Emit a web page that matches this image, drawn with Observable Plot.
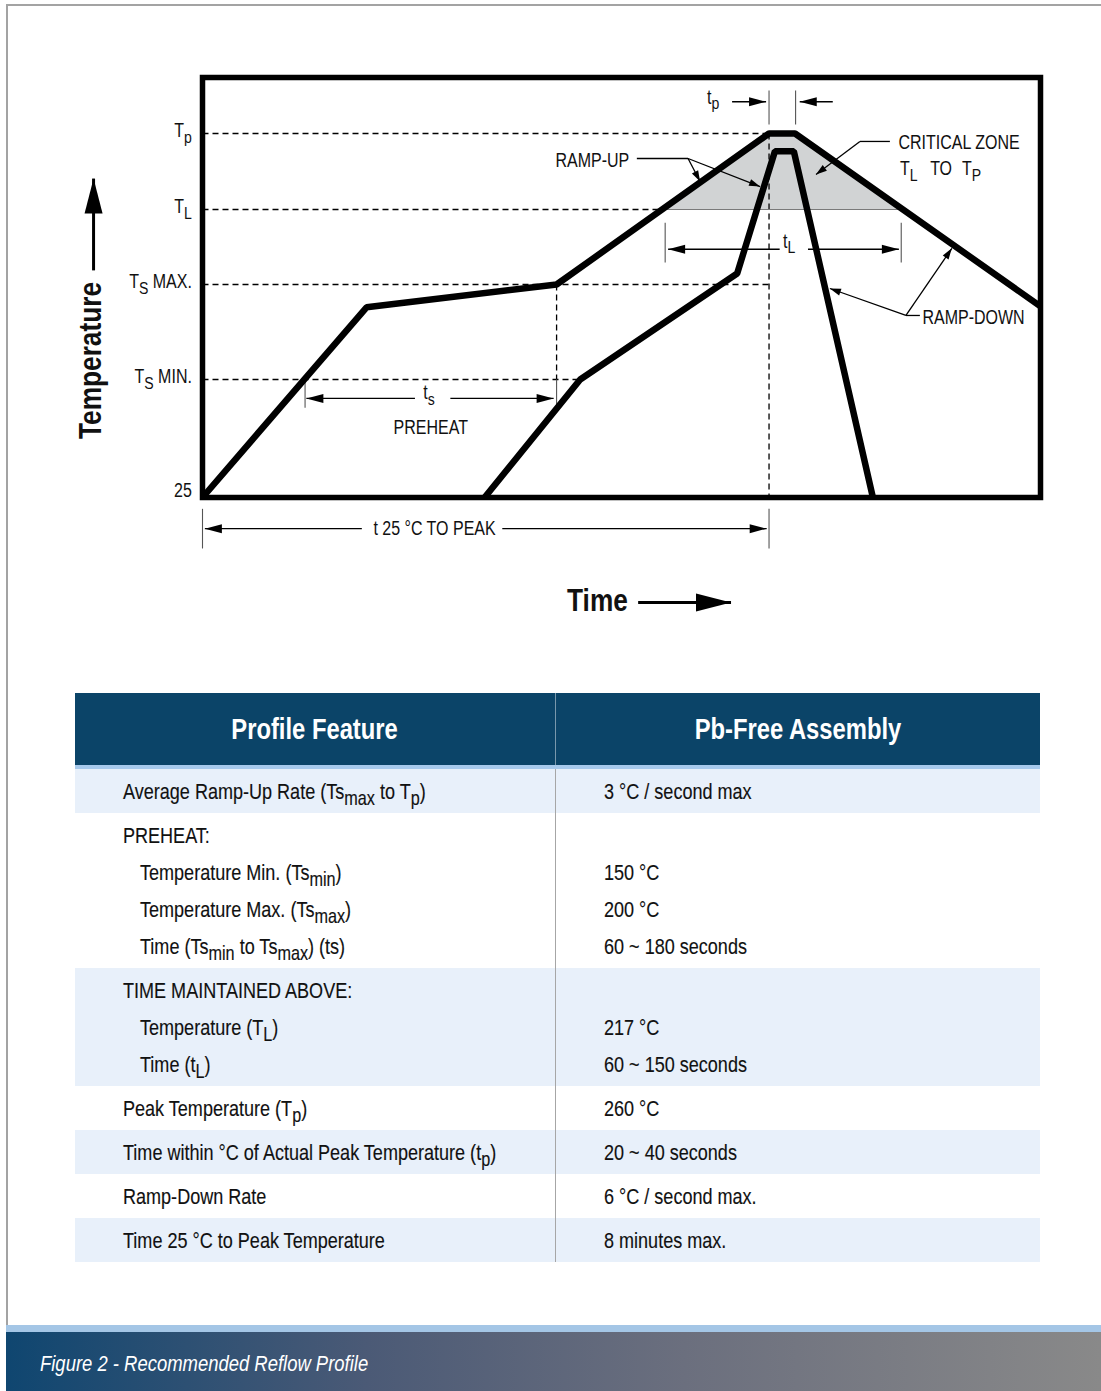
<!DOCTYPE html>
<html>
<head>
<meta charset="utf-8">
<script src="https://cdn.jsdelivr.net/npm/d3@7"></script>
<script src="https://cdn.jsdelivr.net/npm/@observablehq/plot@0.6"></script>
<style>
  body { margin: 0; background: #fff; }
  #page { position: relative; width: 1101px; height: 1391px; overflow: hidden;
    font-family: "Liberation Sans", Arial, sans-serif; color: #111; }
  #frameTop { position: absolute; left: 6px; top: 4px; width: 1095px; height: 2px; background: #a3a3a3; }
  #frameLeft { position: absolute; left: 6px; top: 4px; width: 2px; height: 1321px; background: #a3a3a3; }
  #chart { position: absolute; left: 0; top: 0; }
  #table { position: absolute; left: 75px; top: 693px; width: 965px; }
  .hdr { display: flex; height: 72px; background: #0b4468; color: #fff; font-weight: bold; font-size: 29px; }
  .hdr div { display: flex; align-items: center; justify-content: center; }
  .hdr .c1 { width: 481px; border-right: 1px solid rgba(255,255,255,0.45); box-sizing: border-box; }
  .hdr .c2 { flex: 1; }
  .hdr .n { transform-origin: 50% 50%; }
  .stripe { height: 4px; background: #a6c9ec; }
  .grp { display: flex; }
  .grp.blue { background: #e8f0fa; }
  .grp .c1 { width: 481px; border-right: 1px solid #a6a6a6; box-sizing: border-box; padding: 3.5px 0 3.5px 48px; }
  .grp .c2 { flex: 1; padding: 3.5px 0 3.5px 48px; }
  .ln { height: 37px; line-height: 37px; font-size: 22px; white-space: nowrap; -webkit-text-stroke: 0.15px #111; }
  .ln.ind { padding-left: 17px; }
  .n { display: inline-block; transform: scaleX(0.82); transform-origin: 0 50%; white-space: nowrap; }
  sub { font-size: 90%; vertical-align: -0.3em; line-height: 0; }
  #footStripe { position: absolute; left: 6px; top: 1325px; width: 1095px; height: 7px; background: #a4c6e6; }
  #footer { position: absolute; left: 6px; top: 1332px; width: 1095px; height: 59px;
    background: linear-gradient(to right, #0f4670 0%, #4b5a76 33%, #6b6f7e 62%, #898989 100%); }
  #caption { position: absolute; left: 34px; top: 0; line-height: 64px; font-size: 22.5px; font-style: italic; color: #fff; }
</style>
</head>
<body>
<div id="page">
  <div id="frameTop"></div>
  <div id="frameLeft"></div>
  <div id="chart"></div>
  <div id="table"></div>
  <div id="footStripe"></div>
  <div id="footer"><span id="caption"><span class="n">Figure 2 - Recommended Reflow Profile</span></span></div>
</div>
<script>
// ---------------- data (time in s, temperature in °C; schematic) ----------------
const levelTemps = [25, 150, 200, 217, 260];
const levelLabels = ["25", "T_{S} MIN.", "T_{S} MAX.", "T_{L}", "T_{p}"];

const outerTimes = [0, 139, 300, 480, 502, 710];
const outerTemps = [25, 188, 200, 260, 260, 188.5];
const innerTimes = [239, 320, 453, 485, 501, 568];
const innerTemps = [25, 150, 202.5, 250, 250, 25];
const zoneTimes = [391, 480, 502, 593];
const zoneTemps = [217, 260, 260, 217];

// [t1, T1, t2, T2]
const guideLines = [[0, 260, 480, 260], [0, 217, 391, 217], [0, 200, 480, 200], [0, 150, 320, 150],
  [480, 260, 480, 25], [300, 200, 300, 150]];
const zoneBase = [[391, 217, 593, 217]];
// [t, T1, T2]
const dimTicks = [[0, 13, -29], [480, 13, -29], [86.9, 150, 120], [300, 150, 120],
  [392, 214, 205], [592, 214, 205], [480, 284.3, 265.1], [502.5, 284.3, 265.1]];
// [tail t, tail T, tip t, tip T]
const dimArrows = [[135, -8, 2, -8], [254, -8, 478, -8], [180, 130, 88, 130], [210, 130, 297.5, 130],
  [489, 208, 394.5, 208], [513, 208, 590, 208], [448.7, 278, 477.5, 278], [534, 278, 506, 278]];
const leaderLines = [[368, 245.85, 411.4, 245.85], [582.4, 255.5, 557, 255.5], [607.8, 183.7, 596, 183.7]];
const leaderArrows = [[411.4, 245.85, 421.6, 232.8], [411.4, 245.85, 472.4, 230], [557, 255.5, 519.8, 236.8],
  [596, 183.7, 531.6, 197.9], [596, 183.7, 634.9, 208.2]];
const axisArrows = [[-92.3, 203.2, -92.3, 234.5], [369.1, -86.2, 447.8, -86.2]];

const startLabels = ["t_{p}", "t_{L}", "t_{s}", "t 25 °C TO PEAK", "CRITICAL ZONE", "T_{L}", "TO", "T_{P}", "RAMP-DOWN"];
const startTimes = [427.5, 491.9, 187.1, 144.8, 589.7, 591, 616.5, 643.5, 610];
const startTemps = [280.5, 209.8, 136.2, -7.8, 254.6, 239.8, 239.8, 239.8, 182.6];
const endLabels = ["RAMP-UP"];
const endTimes = [361.5];
const endTemps = [244.7];
const midLabels = ["PREHEAT"];
const midTimes = [193.4];
const midTemps = [99.2];
const axisTitles = ["Time", "Temperature"];
const axisTitleTimes = [334.6, -95];
const axisTitleTemps = [-84, 160];
const axisTitleRotate = [0, -90];

// table
const tableHeader = ["Profile Feature", "Pb-Free Assembly"];
const tableFeatures = ["Average Ramp-Up Rate (Ts_{max} to T_{p})", "PREHEAT:", "Temperature Min. (Ts_{min})",
  "Temperature Max. (Ts_{max})", "Time (Ts_{min} to Ts_{max}) (ts)", "TIME MAINTAINED ABOVE:",
  "Temperature (T_{L})", "Time (t_{L})", "Peak Temperature (T_{p})",
  "Time within °C of Actual Peak Temperature (t_{p})", "Ramp-Down Rate", "Time 25 °C to Peak Temperature"];
const tableValues = ["3 °C / second max", "", "150 °C", "200 °C", "60 ~ 180 seconds", "", "217 °C",
  "60 ~ 150 seconds", "260 °C", "20 ~ 40 seconds", "6 °C / second max.", "8 minutes max."];
const tableGroup = [0, 1, 1, 1, 1, 2, 2, 2, 3, 4, 5, 6];
const tableIndent = [0, 0, 1, 1, 1, 0, 1, 1, 0, 0, 0, 0];

// ---------------- chart ----------------
const FONT = '"Liberation Sans", Arial, sans-serif';
const NARROW = 0.82;
const xOpt = {domain: [0, 710], range: [202, 1040]};
const yOpt = {type: "linear", domain: levelTemps, range: [497, 379, 284, 209, 133]};
const sx = Plot.scale({x: xOpt});
const sy = Plot.scale({y: yOpt});
const angle = a => Math.atan2(sy.apply(a[3]) - sy.apply(a[1]), sx.apply(a[2]) - sx.apply(a[0])) * 180 / Math.PI;
function head(L, W) {
  return {draw(ctx) { ctx.moveTo(0, 0); ctx.lineTo(-L, -W / 2); ctx.lineTo(-L, W / 2); ctx.closePath(); }};
}
const seg = (data, o) => Plot.link(data, {x1: d => d[0], y1: d => d[1], x2: d => d[2], y2: d => d[3], ...o});
const tip = (data, L, W) => Plot.dot(data, {x: d => d[2], y: d => d[3], rotate: angle, symbol: head(L, W),
  r: 5, fill: "black", stroke: "none"});
const rows = (labels, times, temps) => labels.map((s, i) => ({s, t: times[i], T: temps[i]}));
const txt = (data, o) => Plot.text(data, {x: "t", y: "T", text: "s", fontFamily: FONT, fontSize: 19.5, fill: "#111", ...o});

const outer = outerTimes.map((t, i) => ({t, T: outerTemps[i]}));
const inner = innerTimes.map((t, i) => ({t, T: innerTemps[i]}));
const zone = zoneTimes.map((t, i) => ({t, T: zoneTemps[i]}));
const levels = levelTemps.map((T, i) => ({T, s: levelLabels[i], t: -9}));

const chart = Plot.plot({
  width: 1101, height: 660,
  marginLeft: 202, marginRight: 61, marginTop: 77, marginBottom: 163,
  x: {...xOpt, axis: null},
  y: {...yOpt, axis: null},
  style: {fontFamily: FONT, background: "transparent", overflow: "visible"},
  marks: [
    Plot.areaY(zone, {x: "t", y1: levelTemps[3], y2: "T", fill: "#d1d3d4"}),
    seg(guideLines, {stroke: "black", strokeWidth: 1.3, strokeDasharray: "6,4"}),
    seg(zoneBase, {stroke: "#7a7a7a", strokeWidth: 1.2}),
    Plot.link(dimTicks, {x1: d => d[0], x2: d => d[0], y1: d => d[1], y2: d => d[2], stroke: "#555", strokeWidth: 1.1}),
    Plot.line(inner, {x: "t", y: "T", stroke: "black", strokeWidth: 6.5, strokeLinejoin: "miter", strokeLinecap: "butt"}),
    Plot.line(outer, {x: "t", y: "T", stroke: "black", strokeWidth: 6.5, strokeLinejoin: "miter", strokeLinecap: "butt"}),
    Plot.frame({stroke: "black", strokeWidth: 5.5}),
    seg(dimArrows, {stroke: "black", strokeWidth: 1.4}),
    tip(dimArrows, 17, 9),
    seg(leaderLines, {stroke: "black", strokeWidth: 1.3}),
    seg(leaderArrows, {stroke: "black", strokeWidth: 1.3}),
    tip(leaderArrows, 11, 7),
    seg(axisArrows, {stroke: "black", strokeWidth: 3}),
    tip(axisArrows, 35, 18),
    txt(levels.slice(1), {textAnchor: "end", dy: -3}),
    txt(levels.slice(0, 1), {textAnchor: "end", dy: -7}),
    txt(rows(startLabels, startTimes, startTemps), {textAnchor: "start"}),
    txt(rows(endLabels, endTimes, endTemps), {textAnchor: "end"}),
    txt(rows(midLabels, midTimes, midTemps), {textAnchor: "middle"}),
    Plot.text(axisTitles.map((s, i) => ({s, t: axisTitleTimes[i], T: axisTitleTemps[i], r: axisTitleRotate[i]})),
      {x: "t", y: "T", text: "s", rotate: "r", fontFamily: FONT, fontSize: 32, fontWeight: "bold", fill: "#111"})
  ]
});

function subscripts(root) {
  const NS = "http://www.w3.org/2000/svg";
  root.querySelectorAll("text").forEach(el => {
    const s = el.textContent;
    if (!s.includes("_{")) return;
    while (el.firstChild) el.removeChild(el.firstChild);
    let down = false;
    s.split(/(_\{[^}]*\})/).forEach(p => {
      if (!p) return;
      const ts = document.createElementNS(NS, "tspan");
      if (p.startsWith("_{")) {
        ts.textContent = p.slice(2, -1);
        ts.setAttribute("font-size", "88%");
        ts.setAttribute("dy", "0.34em");
        down = true;
      } else {
        ts.textContent = p;
        if (down) { ts.setAttribute("dy", "-0.3em"); down = false; }
      }
      el.appendChild(ts);
    });
  });
}
// condensed look: compress every label horizontally (Arial → Arial-Narrow proportions)
function narrow(root, k) {
  root.querySelectorAll("text").forEach(el => {
    const w = el.getComputedTextLength();
    if (w > 0) {
      el.setAttribute("textLength", (w * k).toFixed(2));
      el.setAttribute("lengthAdjust", "spacingAndGlyphs");
    }
  });
}
subscripts(chart);
document.getElementById("chart").appendChild(chart);
narrow(chart, NARROW);

// ---------------- table ----------------
const sub = s => s.replace(/_\{([^}]*)\}/g, "<sub>$1</sub>");
const table = document.getElementById("table");
let html = `<div class="hdr"><div class="c1"><span class="n">${tableHeader[0]}</span></div><div class="c2"><span class="n">${tableHeader[1]}</span></div></div><div class="stripe"></div>`;
const groups = d3.groups(tableFeatures.map((f, i) => ({f, v: tableValues[i], g: tableGroup[i], ind: tableIndent[i]})), d => d.g);
for (const [g, items] of groups) {
  html += `<div class="grp ${g % 2 === 0 ? "blue" : ""}"><div class="c1">` +
    items.map(d => `<div class="ln${d.ind ? " ind" : ""}"><span class="n">${sub(d.f)}</span></div>`).join("") +
    `</div><div class="c2">` + items.map(d => `<div class="ln"><span class="n">${d.v ? sub(d.v) : "&nbsp;"}</span></div>`).join("") + `</div></div>`;
}
table.innerHTML = html;
</script>
</body>
</html>
